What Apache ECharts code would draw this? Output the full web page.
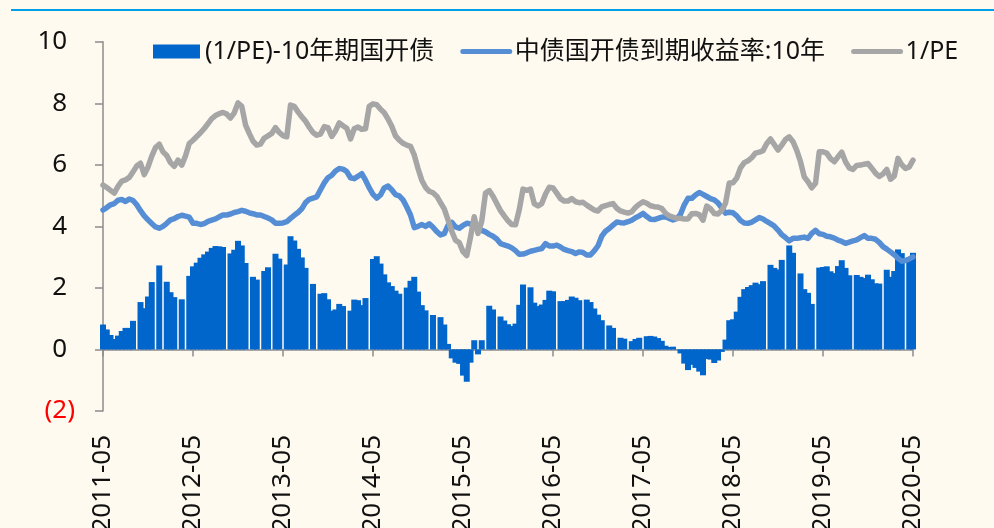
<!DOCTYPE html>
<html><head><meta charset="utf-8">
<script src="https://cdn.jsdelivr.net/npm/echarts@6/dist/echarts.min.js"></script>
<style>html,body{margin:0;padding:0;background:#FFFAF0;} #c{width:994px;height:528px;}</style>
</head><body><div id="c"></div>
<script>
const tickLabels = ['2011-05','2012-05','2013-05','2014-05','2015-05','2016-05','2017-05','2018-05','2019-05','2020-05'];
const seriesNames = ['(1/PE)-10年期国开债','中债国开债到期收益率:10年','1/PE'];
// semi-monthly observation dates, 2011-05-01 .. 2020-05-01
const dates = [];
for (let i = 0; i < 217; i++) {
  const m = 4 + Math.floor(i / 2);
  const y = 2011 + Math.floor(m / 12);
  const mm = m % 12 + 1;
  dates.push(y + '-' + String(mm).padStart(2, '0') + '-' + (i % 2 ? '16' : '01'));
}
const pe = [5.34,5.26,5.17,5.08,5.30,5.47,5.51,5.59,5.77,5.96,
6.05,5.68,5.93,6.28,6.56,6.67,6.42,6.30,6.07,5.95,
6.15,5.99,6.29,6.69,6.80,6.92,7.04,7.18,7.34,7.50,
7.60,7.66,7.70,7.65,7.52,7.69,8.01,7.90,7.30,7.02,
6.77,6.64,6.67,6.87,6.94,7.02,7.21,7.05,6.95,6.91,
7.94,7.90,7.72,7.56,7.42,7.22,7.05,6.96,7.00,7.24,
7.21,6.92,7.10,7.36,7.27,7.19,6.84,7.17,7.23,7.15,
7.17,7.90,7.98,7.95,7.81,7.69,7.49,7.25,6.94,6.80,
6.70,6.64,6.60,6.32,5.88,5.50,5.27,5.14,5.09,4.98,
4.77,4.57,4.21,3.84,3.55,3.47,3.18,3.05,3.65,4.31,
3.77,4.17,5.08,5.16,4.98,4.74,4.51,4.34,4.18,4.06,
4.05,4.54,5.21,5.17,5.21,4.74,4.66,4.74,5.05,5.27,
5.25,5.08,4.90,4.82,4.82,4.90,4.80,4.77,4.78,4.69,
4.61,4.53,4.50,4.63,4.67,4.71,4.74,4.59,4.50,4.46,
4.43,4.47,4.62,4.72,4.80,4.75,4.67,4.64,4.63,4.58,
4.43,4.34,4.30,4.26,4.26,4.24,4.24,4.41,4.42,4.38,
4.20,4.66,4.57,4.42,4.40,4.52,4.75,5.41,5.42,5.57,
5.90,6.07,6.13,6.23,6.38,6.41,6.46,6.69,6.84,6.66,
6.48,6.64,6.82,6.91,6.75,6.47,6.10,5.61,5.45,5.25,
5.40,6.42,6.42,6.38,6.20,6.10,6.26,6.41,6.10,5.90,
5.85,5.98,5.99,6.02,6.04,5.89,5.73,5.62,5.70,5.85,
5.53,5.63,6.21,6.00,5.88,5.93,6.15];
const yld = [4.53,4.61,4.70,4.74,4.85,4.87,4.81,4.89,4.84,4.70,
4.51,4.34,4.21,4.09,3.98,3.94,4.00,4.10,4.21,4.25,
4.32,4.36,4.33,4.30,4.10,4.10,4.06,4.09,4.16,4.20,
4.24,4.31,4.37,4.37,4.40,4.45,4.48,4.52,4.49,4.44,
4.41,4.37,4.37,4.32,4.27,4.21,4.10,4.10,4.11,4.15,
4.26,4.36,4.45,4.57,4.77,4.88,4.92,4.96,5.19,5.41,
5.58,5.66,5.80,5.88,5.86,5.78,5.58,5.55,5.63,5.71,
5.50,5.25,5.04,4.92,5.02,5.25,5.31,5.19,5.03,4.99,
4.86,4.63,4.37,3.96,4.00,4.06,4.00,4.08,3.97,3.83,
3.72,3.76,4.03,4.13,3.98,3.94,4.03,4.10,4.08,4.01,
3.93,3.87,3.82,3.74,3.68,3.59,3.44,3.40,3.36,3.30,
3.21,3.09,3.10,3.14,3.19,3.22,3.25,3.28,3.44,3.36,
3.36,3.39,3.33,3.25,3.21,3.18,3.12,3.17,3.15,3.07,
3.07,3.20,3.37,3.68,3.84,3.93,4.04,4.14,4.12,4.11,
4.15,4.20,4.28,4.34,4.42,4.32,4.23,4.22,4.26,4.30,
4.31,4.26,4.21,4.25,4.39,4.70,4.91,4.91,5.02,5.10,
5.04,4.97,4.90,4.86,4.76,4.60,4.43,4.46,4.44,4.34,
4.19,4.11,4.10,4.14,4.21,4.29,4.24,4.16,4.09,4.01,
3.88,3.73,3.63,3.53,3.61,3.61,3.63,3.65,3.61,3.77,
3.87,3.76,3.74,3.68,3.66,3.62,3.55,3.51,3.45,3.49,
3.53,3.56,3.63,3.70,3.61,3.61,3.58,3.48,3.34,3.26,
3.17,3.08,2.96,2.87,2.89,2.94,3.01];
// spread bars; null = no observation (thin gaps visible in the original)
const spread = [0.81,0.65,0.47,0.34,0.45,0.60,0.70,0.70,0.93,null,
1.54,1.34,1.72,2.19,null,2.73,null,2.20,1.86,1.70,
null,1.63,null,2.39,2.70,2.82,2.98,3.09,3.18,3.30,
3.36,3.35,3.33,null,3.12,3.24,3.53,3.38,2.81,null,
2.36,2.27,null,2.55,2.67,null,3.11,2.95,null,2.76,
3.68,3.54,3.27,2.99,2.65,null,2.13,null,1.81,1.83,
1.63,1.26,1.30,1.48,1.41,null,1.26,1.62,1.60,1.44,
1.67,null,2.94,3.03,2.79,2.44,2.18,2.06,1.91,1.81,
null,2.01,2.23,2.36,1.88,1.44,1.27,null,1.12,null,
1.05,0.81,0.18,-0.29,-0.43,-0.47,-0.85,-1.05,-0.43,0.30,
-0.16,0.30,null,1.42,1.30,null,1.07,0.94,0.82,0.76,
0.84,1.45,2.11,null,2.02,1.52,1.41,1.46,1.61,1.91,
1.89,null,1.57,1.57,1.61,1.72,1.68,1.60,null,1.62,
1.54,1.33,1.13,0.95,null,0.78,0.70,null,0.38,0.35,
null,0.27,0.34,0.38,null,0.43,0.44,0.42,0.37,0.28,
0.12,0.08,0.09,0.01,-0.13,-0.46,-0.67,-0.50,-0.60,-0.72,
-0.84,-0.31,-0.33,-0.44,-0.36,-0.08,0.32,0.95,0.98,1.23,
1.71,1.96,2.03,2.09,2.17,2.12,2.22,null,2.75,2.65,
2.60,2.91,null,3.38,3.14,null,2.47,1.96,1.84,1.48,
null,2.66,2.68,2.70,2.54,2.48,2.71,2.90,2.65,2.41,
null,2.42,2.36,2.32,2.43,2.28,2.15,2.14,null,2.59,
2.36,2.55,3.25,3.13,null,2.99,3.14];

const FONT = "'Noto Sans', 'Noto Sans CJK SC', sans-serif";
const isTick = (idx) => tickLabels.indexOf(dates[idx].slice(0, 7)) >= 0 && dates[idx].slice(8) === '01';

const chart = echarts.init(document.getElementById('c'), null, {renderer: 'canvas'});
chart.setOption({
  backgroundColor: '#FFFAF0',
  animation: false,
  textStyle: {fontFamily: FONT},
  graphic: [{type: 'rect', left: 11, top: 9, shape: {width: 983, height: 2}, style: {fill: '#00A0E9'}}],
  grid: {left: 103, right: 81, top: 41.7, bottom: 117, containLabel: false, outerBoundsMode: 'none'},
  legend: {
    left: 148, top: 34, itemWidth: 47, itemHeight: 14, itemGap: 26,
    textStyle: {fontSize: 25, color: '#111', fontFamily: FONT},
    data: [
      {name: seriesNames[0], icon: 'rect'},
      {name: seriesNames[1], itemStyle: {opacity: 0}, lineStyle: {width: 5, cap: 'round'}},
      {name: seriesNames[2], itemStyle: {opacity: 0}, lineStyle: {width: 5, cap: 'round'}}
    ]
  },
  xAxis: {
    type: 'category', data: dates, boundaryGap: false,
    axisLine: {onZero: true, lineStyle: {color: '#8c8c8c', width: 1.5}},
    axisTick: {interval: (i) => isTick(i), length: 7, lineStyle: {color: '#8c8c8c', width: 1.5}},
    axisLabel: {interval: (i) => isTick(i), rotate: 90, margin: 24, fontSize: 26, color: '#111', fontFamily: FONT,
      formatter: (v) => v.slice(0, 7)},
    splitLine: {show: false}
  },
  yAxis: {
    type: 'value', min: -2, max: 10, interval: 2,
    axisLine: {show: true, lineStyle: {color: '#8c8c8c', width: 1.5}},
    axisTick: {show: true, length: 8, lineStyle: {color: '#8c8c8c', width: 1.5}},
    splitLine: {show: false},
    axisLabel: {
      margin: 28, fontSize: 26, fontFamily: FONT,
      formatter: (v) => v < 0 ? '{n|(' + (-v) + ')}' : '{p|' + v + '}{h|)}',
      rich: {
        n: {color: '#FF0000', fontSize: 26, fontFamily: FONT},
        p: {color: '#111', fontSize: 26, fontFamily: FONT},
        h: {color: 'rgba(0,0,0,0)', fontSize: 26, fontFamily: FONT}
      }
    }
  },
  series: [
    {name: seriesNames[0], type: 'bar', data: spread, barWidth: 6,
      itemStyle: {color: '#0066CC'}, z: 1},
    {name: seriesNames[1], type: 'line', data: yld, symbol: 'none', showSymbol: false,
      lineStyle: {color: '#558ED5', width: 5.5, cap: 'round', join: 'round'}, itemStyle: {color: '#558ED5'}, z: 2},
    {name: seriesNames[2], type: 'line', data: pe, symbol: 'none', showSymbol: false,
      lineStyle: {color: '#A6A6A6', width: 5.5, cap: 'round', join: 'round'}, itemStyle: {color: '#A6A6A6'}, z: 3}
  ]
});
</script></body></html>
